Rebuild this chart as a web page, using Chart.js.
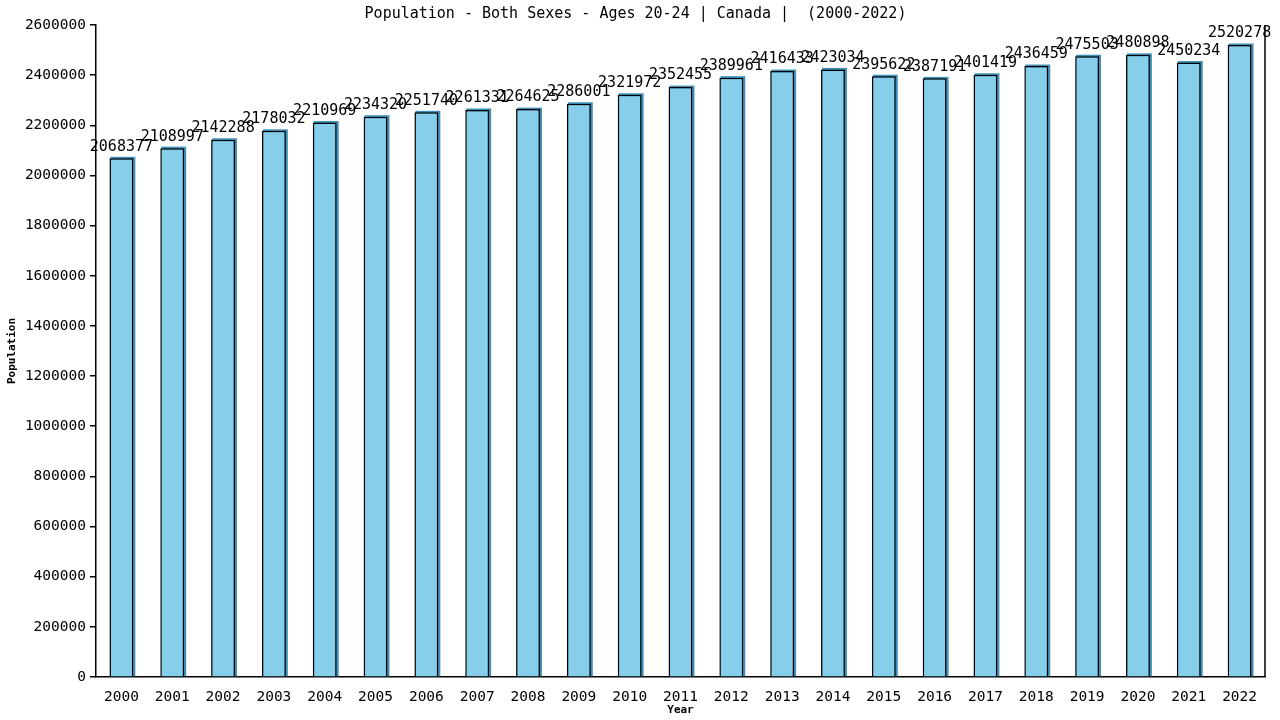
<!DOCTYPE html>
<html>
<head>
<meta charset="utf-8">
<script src="https://cdn.jsdelivr.net/npm/chart.js@4/dist/chart.umd.min.js"></script>
<style>
  html, body { margin: 0; padding: 0; background: #fff; }
  #wrap { width: 1280px; height: 720px; }
</style>
</head>
<body>
<div id="wrap"><canvas id="myChart" width="1280" height="720"></canvas></div>
<script>
const years = ['2000','2001','2002','2003','2004','2005','2006','2007','2008','2009','2010','2011',
               '2012','2013','2014','2015','2016','2017','2018','2019','2020','2021','2022'];
const population = [2068377, 2108997, 2142288, 2178032, 2210969, 2234320, 2251740, 2261331,
                    2264625, 2286001, 2321972, 2352455, 2389961, 2416433, 2423034, 2395622,
                    2387191, 2401419, 2436459, 2475503, 2480898, 2450234, 2520278];
const yMax = 2600000;
const yStep = 200000;

const monoFont = "'DejaVu Sans Mono', 'Liberation Mono', monospace";

// value labels above each bar
const valueLabels = {
    id: 'valueLabels',
    afterDatasetsDraw(chart) {
        const c = chart.ctx;
        const meta = chart.getDatasetMeta(0);
        c.save();
        c.font = '15px ' + monoFont;
        c.fillStyle = '#000';
        c.textAlign = 'center';
        c.textBaseline = 'bottom';
        meta.data.forEach((bar, i) => {
            c.fillText(String(population[i]), bar.x, bar.y - 4);
        });
        c.restore();
    }
};

// blue shadow on the right/top of every bar, plus right frame line
const barShadow = {
    id: 'barShadow',
    beforeDatasetsDraw(chart) {
        const c = chart.ctx;
        const meta = chart.getDatasetMeta(0);
        c.save();
        c.fillStyle = '#3f8fb8';
        meta.data.forEach((bar) => {
            const w = bar.width;
            c.fillRect(bar.x - w / 2 + 1, bar.y - 1.5, w + 1, bar.base - bar.y + 1.5);
        });
        c.restore();
    },
    afterDraw(chart) {
        const c = chart.ctx;
        const a = chart.chartArea;
        c.save();
        c.strokeStyle = '#000';
        c.lineWidth = 1.5;
        c.beginPath();
        c.moveTo(a.right, a.top);
        c.lineTo(a.right, a.bottom);
        c.stroke();
        c.restore();
    }
};

const ctx = document.getElementById('myChart').getContext('2d');
const myChart = new Chart(ctx, {
    type: 'bar',
    data: {
        labels: years,
        datasets: [{
            label: 'Population',
            data: population,
            backgroundColor: '#87ceeb',
            borderColor: '#000',
            borderWidth: { top: 1.5, left: 1.5, right: 1.5, bottom: 0 },
            borderSkipped: 'bottom',
            barPercentage: 0.47,
            categoryPercentage: 1.0,
        }],
    },
    options: {
        responsive: false,
        animation: false,
        layout: {
            padding: { left: 6, right: 15, top: 0, bottom: 0 }
        },
        plugins: {
            legend: { display: false },
            tooltip: { enabled: false },
            title: {
                display: true,
                text: 'Population - Both Sexes - Ages 20-24 | Canada |  (2000-2022)',
                color: '#000',
                font: { family: monoFont, size: 15, weight: 'normal', lineHeight: 1.2 },
                padding: { top: 5, bottom: 2 }
            }
        },
        scales: {
            y: {
                min: 0,
                max: yMax,
                afterFit(axis) { axis.width = 90; },
                ticks: {
                    stepSize: yStep,
                    color: '#000',
                    padding: 4,
                    font: { family: monoFont, size: 14.5 },
                    callback: (v) => String(v)
                },
                grid: {
                    drawOnChartArea: false,
                    drawTicks: true,
                    tickLength: 6,
                    color: '#000',
                    lineWidth: 1.5
                },
                border: { display: true, color: '#000', width: 1.5 },
                title: {
                    display: true,
                    text: 'Population',
                    color: '#000',
                    padding: { top: 0, bottom: 2 },
                    font: { family: monoFont, size: 11, weight: 'bold' }
                }
            },
            x: {
                afterFit(axis) { axis.height = 43; },
                ticks: {
                    color: '#000',
                    padding: 4,
                    maxRotation: 0,
                    autoSkip: false,
                    font: { family: monoFont, size: 14.5 }
                },
                grid: {
                    display: false
                },
                border: { display: true, color: '#000', width: 1.5 },
                title: {
                    display: true,
                    text: 'Year',
                    color: '#000',
                    padding: { top: 0, bottom: 3 },
                    font: { family: monoFont, size: 11, weight: 'bold' }
                }
            }
        }
    },
    plugins: [barShadow, valueLabels]
});
</script>
</body>
</html>
